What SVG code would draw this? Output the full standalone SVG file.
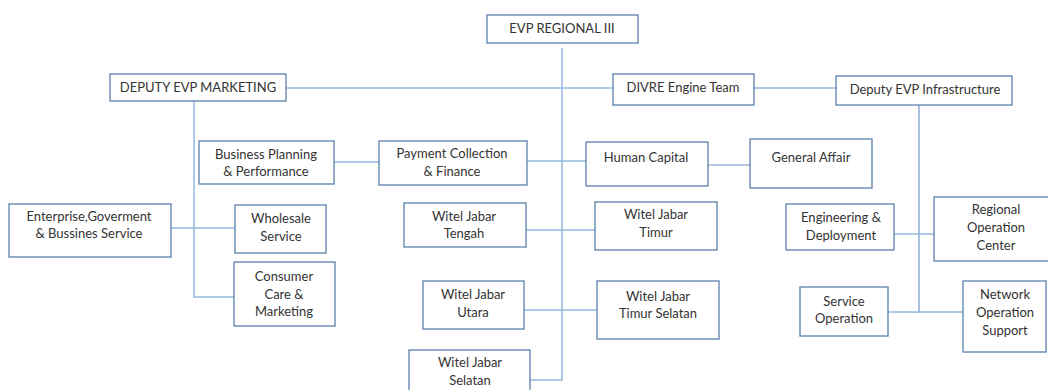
<svg xmlns="http://www.w3.org/2000/svg" width="1048" height="390" viewBox="0 0 1048 390">
<style>
.b{fill:#fff;stroke:#5b80ab;stroke-width:1.3}
.t{font-family:Lato,"Liberation Sans",sans-serif;font-size:13px;fill:#333;text-anchor:middle}
.c{fill:none;stroke:#93b9e2;stroke-width:1.5}
.d{fill:none;stroke:#6f97c8;stroke-width:1.2}
</style>
<rect width="1048" height="390" fill="#fff"/>
<g id="connectors">
<path class="c" d="M562 48V380H530"/>
<path class="c" d="M286 88H613"/>
<path class="c" d="M754 88H836"/>
<path class="c" d="M194 101V297H234"/>
<path class="c" d="M171 228H240"/>
<path class="c" d="M334 162H397"/>
<path class="c" d="M527 161H586"/>
<path class="d" d="M705 165H753"/>
<path class="c" d="M524 230H595"/>
<path class="c" d="M521 310H601"/>
<path class="d" d="M919 105V313"/>
<path class="c" d="M892 234H937"/>
<path class="c" d="M887 312H966"/>
</g>
<g id="evp"><rect class="b" x="487" y="15" width="151" height="28"/><text class="t" x="562" y="33">EVP REGIONAL III</text></g>
<g id="dmkt"><rect class="b" x="110" y="74" width="176" height="27"/><text class="t" x="198" y="92">DEPUTY EVP MARKETING</text></g>
<g id="divre"><rect class="b" x="613" y="74" width="141" height="31"/><text class="t" x="683" y="92">DIVRE Engine Team</text></g>
<g id="dinfra"><rect class="b" x="836" y="76" width="176" height="29"/><text class="t" x="925" y="94">Deputy EVP Infrastructure</text></g>
<g id="bpp"><rect class="b" x="199" y="141" width="135" height="43"/><text class="t" x="266" y="159">Business Planning</text><text class="t" x="266" y="176">&amp; Performance</text></g>
<g id="pcf"><rect class="b" x="379" y="141" width="148" height="44"/><text class="t" x="452" y="158">Payment Collection</text><text class="t" x="452" y="176">&amp; Finance</text></g>
<g id="hc"><rect class="b" x="586" y="142" width="122" height="44"/><text class="t" x="646" y="162">Human Capital</text></g>
<g id="ga"><rect class="b" x="750" y="139" width="122" height="49"/><text class="t" x="811" y="162">General Affair</text></g>
<g id="ebs"><rect class="b" x="9" y="204" width="162" height="53"/><text class="t" x="89" y="221">Enterprise,Goverment</text><text class="t" x="89" y="238">&amp; Bussines Service</text></g>
<g id="ws"><rect class="b" x="235" y="205" width="91" height="48"/><text class="t" x="281" y="223">Wholesale</text><text class="t" x="281" y="241">Service</text></g>
<g id="ccm"><rect class="b" x="234" y="262" width="101" height="64"/><text class="t" x="284" y="281">Consumer</text><text class="t" x="284" y="299">Care &amp;</text><text class="t" x="284" y="316">Marketing</text></g>
<g id="wjt"><rect class="b" x="404" y="203" width="122" height="44"/><text class="t" x="464" y="221">Witel Jabar</text><text class="t" x="464" y="238">Tengah</text></g>
<g id="wjti"><rect class="b" x="595" y="202" width="122" height="48"/><text class="t" x="656" y="219">Witel Jabar</text><text class="t" x="656" y="237">Timur</text></g>
<g id="wju"><rect class="b" x="423" y="281" width="101" height="48"/><text class="t" x="473" y="299">Witel Jabar</text><text class="t" x="473" y="317">Utara</text></g>
<g id="wjts"><rect class="b" x="597" y="281" width="122" height="58"/><text class="t" x="658" y="301">Witel Jabar</text><text class="t" x="658" y="318">Timur Selatan</text></g>
<g id="wjs"><rect class="b" x="409" y="350" width="121" height="46"/><text class="t" x="470" y="367">Witel Jabar</text><text class="t" x="470" y="385">Selatan</text></g>
<g id="ed"><rect class="b" x="786" y="204" width="108" height="46"/><text class="t" x="841" y="222">Engineering &amp;</text><text class="t" x="841" y="240">Deployment</text></g>
<g id="roc"><rect class="b" x="934" y="197" width="120" height="64"/><text class="t" x="996" y="214">Regional</text><text class="t" x="996" y="232">Operation</text><text class="t" x="996" y="250">Center</text></g>
<g id="so"><rect class="b" x="800" y="287" width="88" height="49"/><text class="t" x="844" y="306">Service</text><text class="t" x="844" y="323">Operation</text></g>
<g id="nos"><rect class="b" x="963" y="281" width="83" height="71"/><text class="t" x="1005" y="299">Network</text><text class="t" x="1005" y="317">Operation</text><text class="t" x="1005" y="335">Support</text></g>
</svg>
